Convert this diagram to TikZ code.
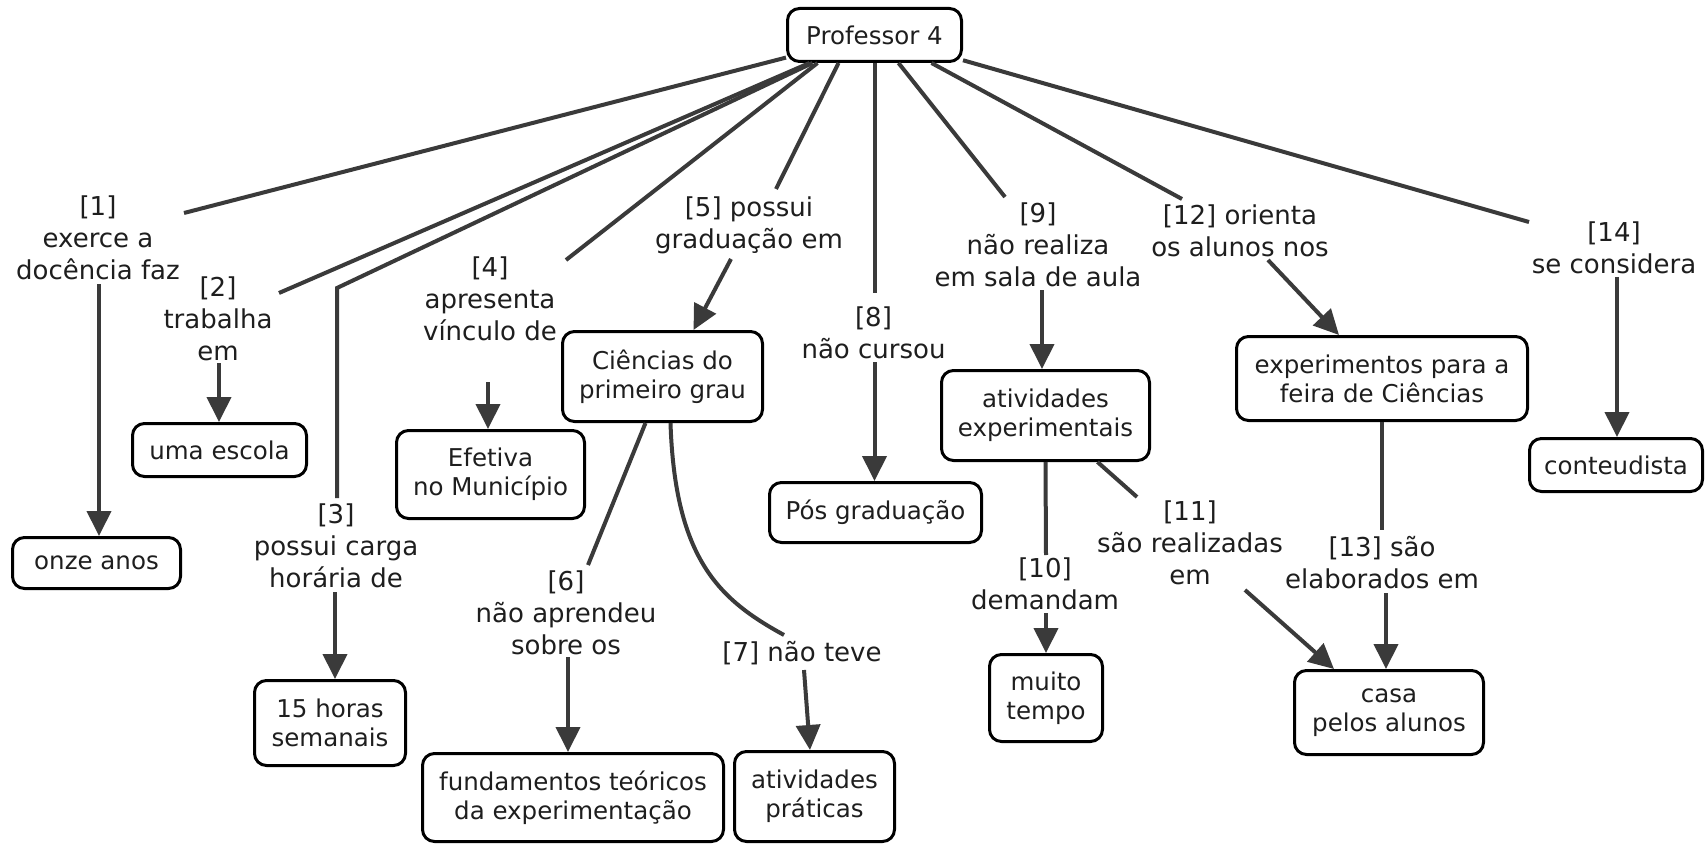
\documentclass[tikz,border=0pt]{standalone}
\usepackage{fontspec}
\setmainfont{DejaVu Sans}
\usetikzlibrary{arrows.meta}
\definecolor{lc}{HTML}{3A3A3A}
\definecolor{tc}{HTML}{1E1E1E}
\newcommand\bxfont{\fontsize{24.5}{29}\selectfont}
\newcommand\lbfont{\fontsize{26}{32}\selectfont}
\begin{document}
\begin{tikzpicture}[x=1pt,y=-1pt,
  box/.style={draw=black, line width=3pt, rounded corners=12pt, fill=white, align=center, font=\bxfont, inner sep=0pt, text=tc},
  lbl/.style={align=center, font=\lbfont, inner sep=1pt, text=tc},
  conn/.style={draw=lc, line width=4pt},
  arr/.style={conn, -{Triangle[length=25pt,width=24pt]}}]
\useasboundingbox (0,0) rectangle (1706,845);
\fill[white] (0,0) rectangle (1706,845);

% concept boxes
\node[box, minimum width=174pt, minimum height=53pt] (prof) at (874.5,35) {Professor 4};
\node[box, minimum width=168pt, minimum height=51pt] (onze) at (96.5,563) {onze anos};
\node[box, minimum width=174pt, minimum height=53pt] (escola) at (219.5,450) {uma escola};
\node[box, minimum width=188pt, minimum height=88pt] (efetiva) at (490.5,474.5) {Efetiva\\no Município};
\node[box, minimum width=151pt, minimum height=85pt] (horas) at (330,723) {15 horas\\semanais};
\node[box, minimum width=301pt, minimum height=88pt] (fund) at (573,797.5) {fundamentos teóricos\\da experimentação};
\node[box, minimum width=160pt, minimum height=90pt] (prat) at (814.5,796.5) {atividades\\práticas};
\node[box, minimum width=200pt, minimum height=90pt] (ciencias) at (662.5,376.5) {Ciências do\\primeiro grau};
\node[box, minimum width=212pt, minimum height=60pt] (pos) at (875.5,512.5) {Pós graduação};
\node[box, minimum width=208pt, minimum height=90pt] (ativexp) at (1045.5,415.5) {atividades\\experimentais};
\node[box, minimum width=113pt, minimum height=87pt] (muito) at (1046,698) {muito\\tempo};
\node[box, minimum width=291pt, minimum height=84pt] (exper) at (1382,378.5) {experimentos para a\\feira de Ciências};
\node[box, minimum width=189pt, minimum height=84pt] (casa) at (1389,712.5) {casa\\pelos alunos};
\node[box, minimum width=173pt, minimum height=53pt] (conteud) at (1616,465) {conteudista};

% linking phrases
\node[lbl] (l1) at (98,238) {[1]\\exerce a\\docência faz};
\node[lbl] (l2) at (218,319) {[2]\\trabalha\\em};
\node[lbl] (l3) at (336,546) {[3]\\possui carga\\horária de};
\node[lbl] (l4) at (490,299) {[4]\\apresenta\\vínculo de};
\node[lbl] (l5) at (749,225) {[5] possui\\graduação em};
\node[lbl] (l6) at (566,613) {[6]\\não aprendeu\\sobre os};
\node[lbl] (l7) at (802,653) {[7] não teve};
\node[lbl] (l8) at (873.5,333) {[8]\\não cursou};
\node[lbl] (l9) at (1038,245) {[9]\\não realiza\\em sala de aula};
\node[lbl] (l10) at (1045,584) {[10]\\demandam};
\node[lbl] (l11) at (1190,543) {[11]\\são realizadas\\em};
\node[lbl] (l12) at (1240,231) {[12] orienta\\os alunos nos};
\node[lbl] (l13) at (1382,563) {[13] são\\elaborados em};
\node[lbl] (l14) at (1614,248) {[14]\\se considera};

% connector end points next to the linking phrases
\coordinate (e1) at (184,213);
\coordinate (e2) at (279,293);
\coordinate (b3) at (337,288);
\coordinate (e3) at (337,498);
\coordinate (e4) at (566,260);
\coordinate (e5) at (776,189);
\coordinate (e8) at (874.5,293);
\coordinate (e9) at (1005,197);
\coordinate (e12) at (1182,199);
\coordinate (e14) at (1529,222);

\coordinate (s1) at (99,284);
\coordinate (s2) at (219,363);
\coordinate (s3) at (335,592);
\coordinate (s4) at (488,382);
\coordinate (s5) at (731,259);
\coordinate (e6) at (588,565);
\coordinate (s6) at (568,657);
\coordinate (e7) at (784,635);
\coordinate (s7) at (804,670);
\coordinate (t7) at (810,0);
\coordinate (s8) at (874.5,362);
\coordinate (s9) at (1042,290);
\coordinate (e10) at (1046,555);
\coordinate (s10) at (1046,613);
\coordinate (e11) at (1137,497);
\coordinate (s11) at (1245,590);
\coordinate (s12) at (1268,260);
\coordinate (e13) at (1382,530);
\coordinate (s13) at (1386,593);
\coordinate (s14) at (1617,277);

% lines from Professor 4
\draw[conn] (prof) -- (e1);
\draw[conn] ([xshift=-65pt]prof.south) -- (e2);
\draw[conn] ([xshift=-62pt]prof.south) -- (b3) -- (e3);
\draw[conn] ([xshift=-57pt]prof.south) -- (e4);
\draw[conn] ([xshift=-36pt]prof.south) -- (e5);
\draw[conn] (prof.south) -- (e8);
\draw[conn] ([xshift=24pt]prof.south) -- (e9);
\draw[conn] ([xshift=57pt]prof.south) -- (e12);
\draw[conn] (prof) -- (e14);

% arrows to concepts
\draw[arr] (s1) -- (s1 |- onze.north);
\draw[arr] (s2) -- (s2 |- escola.north);
\draw[arr] (s3) -- (s3 |- horas.north);
\draw[arr] (s4) -- (s4 |- efetiva.north);
\draw[arr] (s5) -- ([xshift=31pt]ciencias.north);
\draw[conn] ([xshift=-17pt]ciencias.south) -- (e6);
\draw[arr] (s6) -- (s6 |- fund.north);
\draw[conn] ([xshift=8pt]ciencias.south) .. controls (675,560) and (720,600) .. (e7);
\draw[arr] (s7) -- (t7 |- prat.north);
\draw[arr] (s8) -- (s8 |- pos.north);
\draw[arr] (s9) -- (s9 |- ativexp.north);
\draw[conn] (ativexp.south) -- (e10);
\draw[arr] (s10) -- (s10 |- muito.north);
\draw[conn] ([xshift=52pt]ativexp.south) -- (e11);
\draw[arr] (s11) -- ([xshift=-55pt]casa.north);
\draw[arr] (s12) -- ([xshift=-43pt]exper.north);
\draw[conn] (exper.south) -- (e13);
\draw[arr] (s13) -- (s13 |- casa.north);
\draw[arr] (s14) -- (s14 |- conteud.north);
\end{tikzpicture}
\end{document}
